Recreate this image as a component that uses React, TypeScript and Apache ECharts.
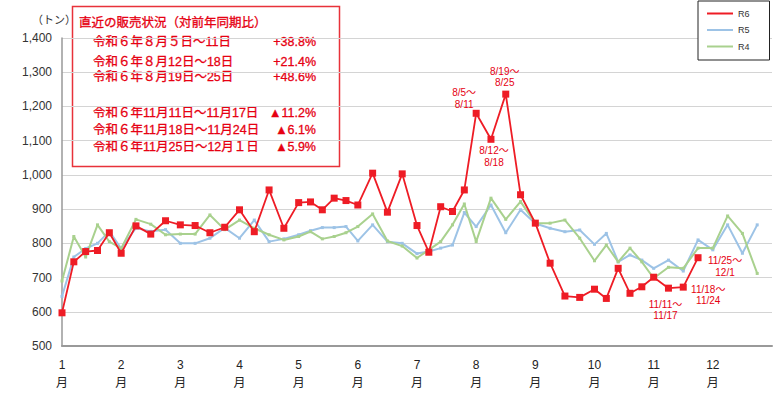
import React, { useEffect, useRef } from "react";
import * as echarts from "echarts";

// weeks plotted in each month (month width is uniform, weeks spread evenly inside)
const weeksPerMonth = [5, 4, 4, 4, 5, 4, 5, 4, 4, 5, 4, 4];
const monthTicks = [1, 2, 3, 4, 5, 6, 7, 8, 9, 10, 11, 12];

const r6 = [
  597, 746, 776, 779, 831, 771, 851, 827, 866, 854, 852, 831, 847, 898, 834, 956,
  844, 919, 921, 898, 932, 925, 912, 1005, 891, 1003, 852, 774, 907, 893, 956,
  1180, 1104, 1236, 942, 859, 742, 646, 642, 666, 639, 727, 654, 673, 701, 669,
  672, 758,
];
const r5 = [
  645, 760, 785, 800, 835, 785, 845, 835, 840, 800, 800, 815, 845, 815, 868, 805,
  813, 825, 837, 846, 846, 849, 807, 854, 805, 800, 770, 776, 786, 795, 890, 849,
  912, 831, 898, 858, 844, 834, 839, 797, 829, 746, 766, 751, 727, 751, 719, 810,
  781, 854, 771, 854,
];
const r4 = [
  690, 820, 760, 854, 805, 785, 870, 856, 825, 827, 827, 883, 840, 868, 844, 825,
  810, 820, 834, 813, 820, 831, 849, 886, 807, 792, 757, 781, 805, 854, 915, 805,
  932, 870, 922, 859, 859, 868, 815, 749, 795, 746, 786, 746, 698, 730, 727, 786,
  786, 880, 829, 712,
];

// week index -> annotation lines on the R6 line
const r6Notes: Record<number, [string, string]> = {
  31: ["8/5～", "8/11"],
  32: ["8/12～", "8/18"],
  33: ["8/19～", "8/25"],
  45: ["11/11～", "11/17"],
  46: ["11/18～", "11/24"],
  47: ["11/25～", "12/1"],
};
// annotation placement (style only): centre offset from the point
const noteOffsets: Record<number, [number, number]> = {
  31: [-12, -15],
  32: [3, 17],
  33: [-1, -17],
  45: [-3, 22],
  46: [25, 8],
  47: [27, 9],
};

const boxTitle = "直近の販売状況（対前年同期比）";
const boxRows: [string, string][] = [
  ["令和６年８月５日～11日", "+38.8%"],
  ["令和６年８月12日～18日", "+21.4%"],
  ["令和６年８月19日～25日", "+48.6%"],
  ["令和６年11月11日～11月17日", "▲11.2%"],
  ["令和６年11月18日～11月24日", "▲6.1%"],
  ["令和６年11月25日～12月１日", "▲5.9%"],
];
const boxRowY = [41.7, 61.7, 77.3, 113.3, 130, 146.7];

const weekX: number[] = [];
weeksPerMonth.forEach((n, m) => {
  for (let k = 0; k < n; k++) weekX.push(m + 1 + k / n);
});

const RED = "#ee1c25";
const TXT_RED = "#e60012";
const JP = "'Noto Sans CJK JP', 'Noto Sans', sans-serif";
const MIX = "'Liberation Sans', 'Noto Sans CJK JP', sans-serif";

export default function App() {
  const ref = useRef<HTMLDivElement>(null);
  useEffect(() => {
    if (!ref.current) return;
    const chart = echarts.init(ref.current, null, { renderer: "svg" });

    const boxFont = `12.5px ${MIX}`;
    const boxStyle = { fill: TXT_RED, font: boxFont, verticalAlign: "middle", stroke: TXT_RED, lineWidth: 0.3 };
    const boxTexts: any[] = [
      { type: "text", x: 79, y: 23.3, style: { ...boxStyle, text: boxTitle } },
    ];
    boxRows.forEach(([label, val], i) => {
      boxTexts.push({ type: "text", x: 93, y: boxRowY[i], style: { ...boxStyle, text: label } });
      boxTexts.push({ type: "text", x: 316, y: boxRowY[i], style: { ...boxStyle, text: val, align: "right" } });
    });

    const option: any = {
      animation: false,
      textStyle: { fontFamily: MIX },
      grid: { left: 62, right: 6, top: 38, bottom: 50 },
      legend: {
        orient: "vertical",
        left: 698,
        top: 1,
        padding: [8, 20, 9, 9],
        itemGap: 7.5,
        itemWidth: 26,
        itemHeight: 2,
        icon: "rect",
        borderColor: "#222",
        borderWidth: 1,
        backgroundColor: "#fff",
        textStyle: { fontSize: 9, color: "#333" },
        data: ["R6", "R5", "R4"],
      },
      xAxis: {
        type: "value",
        min: 1,
        max: 13,
        interval: 1,
        axisLine: { show: true, lineStyle: { color: "#999", width: 2 } },
        axisTick: { show: false },
        splitLine: { show: false },
        axisLabel: {
          formatter: (v: number) => (monthTicks.includes(v) ? `${v}\n月` : ""),
          color: "#222",
          fontSize: 12,
          lineHeight: 18,
          margin: 10,
        },
      },
      yAxis: {
        type: "value",
        min: 500,
        max: 1400,
        interval: 100,
        axisLine: { show: true, lineStyle: { color: "#999", width: 1.5 } },
        axisTick: { show: false },
        splitLine: { lineStyle: { color: "#d4d4d4", width: 1 } },
        axisLabel: {
          formatter: (v: number) => v.toLocaleString("en-US"),
          color: "#333",
          fontSize: 12,
          margin: 10,
        },
      },
      series: [
        {
          name: "R5",
          type: "line",
          data: r5.map((v, i) => [weekX[i], v]),
          symbol: "rect",
          symbolSize: 3,
          itemStyle: { color: "#9dc3e6" },
          lineStyle: { color: "#9dc3e6", width: 2 },
          z: 2,
        },
        {
          name: "R4",
          type: "line",
          data: r4.map((v, i) => [weekX[i], v]),
          symbol: "rect",
          symbolSize: 3,
          itemStyle: { color: "#a9d18e" },
          lineStyle: { color: "#a9d18e", width: 2 },
          z: 3,
        },
        {
          name: "R6",
          type: "line",
          data: r6.map((v, i) => {
            const item: any = { value: [weekX[i], v] };
            if (r6Notes[i]) {
              item.label = {
                show: true,
                formatter: r6Notes[i].join("\n"),
                position: "inside",
                align: "center",
                verticalAlign: "middle",
                offset: noteOffsets[i],
                color: TXT_RED,
                fontFamily: MIX,
                fontSize: 10,
                lineHeight: 11.5,
              };
            }
            return item;
          }),
          symbol: "rect",
          symbolSize: 7,
          itemStyle: { color: RED },
          lineStyle: { color: RED, width: 1.8 },
          z: 5,
        },
      ],
      graphic: [
        {
          type: "text",
          x: 32,
          y: 19,
          style: { text: "（トン）", fill: "#333", font: `11px ${JP}`, verticalAlign: "middle" },
        },
        {
          type: "group",
          z: 100,
          children: [
            {
              type: "rect",
              shape: { x: 72.5, y: 6.5, width: 267, height: 160 },
              style: { fill: "#fff", stroke: "#e8323a", lineWidth: 1.5 },
            },
            ...boxTexts,
          ],
        },
      ],
    };
    chart.setOption(option);
    return () => chart.dispose();
  }, []);
  return <div ref={ref} style={{ width: 778, height: 396, position: "absolute", left: 0, top: 0 }} />;
}
